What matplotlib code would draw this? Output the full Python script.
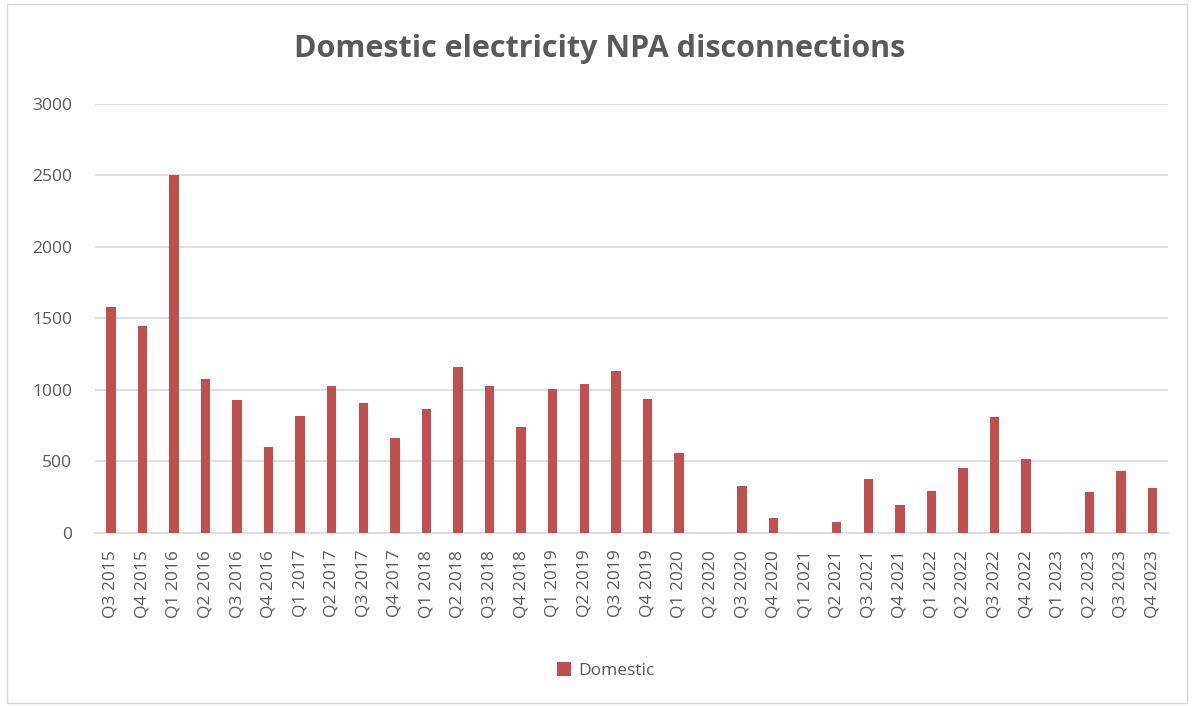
import numpy as np
import matplotlib.pyplot as plt
from matplotlib.patches import Rectangle

quarters = ["Q3 2015", "Q4 2015",
            "Q1 2016", "Q2 2016", "Q3 2016", "Q4 2016",
            "Q1 2017", "Q2 2017", "Q3 2017", "Q4 2017",
            "Q1 2018", "Q2 2018", "Q3 2018", "Q4 2018",
            "Q1 2019", "Q2 2019", "Q3 2019", "Q4 2019",
            "Q1 2020", "Q2 2020", "Q3 2020", "Q4 2020",
            "Q1 2021", "Q2 2021", "Q3 2021", "Q4 2021",
            "Q1 2022", "Q2 2022", "Q3 2022", "Q4 2022",
            "Q1 2023", "Q2 2023", "Q3 2023", "Q4 2023"]
domestic = [1582, 1447,
            2500, 1080, 932, 603,
            820, 1025, 911, 662,
            867, 1163, 1030, 739,
            1007, 1041, 1130, 934,
            556, 0, 327, 103,
            0, 75, 381, 194,
            297, 451, 808, 514,
            0, 290, 435, 318]
yticks = [0, 500, 1000, 1500, 2000, 2500, 3000]

txt = "#595959"
plt.rcParams['font.family'] = ['Open Sans', 'DejaVu Sans']

fig = plt.figure(figsize=(11.92, 7.06), dpi=100)
ax = fig.add_axes([0.0797, 0.245, 0.9003, 0.608])

x = np.arange(len(quarters))
ax.bar(x, domestic, width=0.3, color="#c0504d", label="Domestic", zorder=3)

ax.set_xlim(-0.5, len(quarters) - 0.5)
ax.set_ylim(0, 3000)
ax.set_yticks(yticks)
ax.set_yticklabels([str(v) for v in yticks], fontsize=12.5, color=txt)
ax.set_xticks(x)
ax.set_xticklabels(quarters, rotation=90, fontsize=12.5, color=txt)
ax.tick_params(length=0)
ax.tick_params(axis="x", pad=12)
ax.tick_params(axis="y", pad=16.5)
ax.yaxis.grid(True, color="#d9d9d9", lw=1.2, zorder=0)
for s in ["top", "right", "left"]:
    ax.spines[s].set_visible(False)
ax.spines["bottom"].set_color("#d9d9d9")
ax.spines["bottom"].set_linewidth(1.2)

fig.text(0.503, 0.93, "Domestic electricity NPA disconnections", ha="center", va="center",
         fontsize=22, fontweight="bold", color=txt)

fig.legend(loc="center", bbox_to_anchor=(0.508, 0.05), frameon=False, fontsize=12.5,
           labelcolor=txt, handlelength=0.8, handleheight=0.8, handletextpad=0.4)

# chart border
fig.patches.append(Rectangle((0.006, 0.004), 0.99, 0.99, transform=fig.transFigure,
                             fill=False, edgecolor="#d9d9d9", lw=1))

fig.savefig("out.png", dpi=100)
